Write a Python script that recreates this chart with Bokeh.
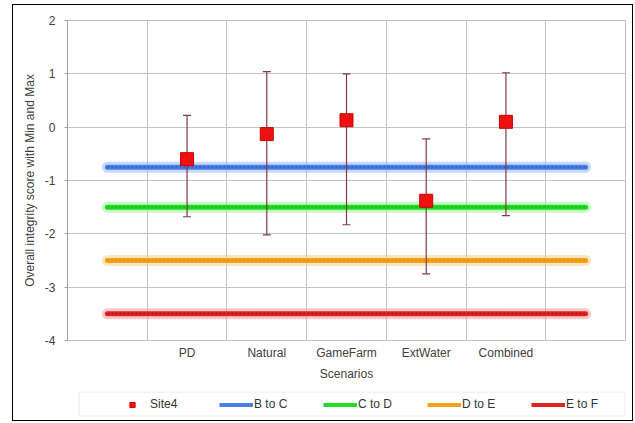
import numpy as np
from bokeh.plotting import figure
from bokeh.layouts import column
from bokeh.models import (Legend, LegendItem, ColumnDataSource, FixedTicker, Range1d,
                          BoxAnnotation)
from bokeh.embed import file_html
from bokeh.resources import INLINE

# ---- data ----
categories = ["", "PD", "Natural", "GameFarm", "ExtWater", "Combined", ""]
scenarios = ["PD", "Natural", "GameFarm", "ExtWater", "Combined"]
site4 = [-0.60, -0.13, 0.13, -1.38, 0.10]
site4_max = [0.22, 1.04, 1.00, -0.22, 1.02]
site4_min = [-1.68, -2.02, -1.83, -2.75, -1.66]
threshold_names = ["B to C", "C to D", "D to E", "E to F"]
threshold_values = [-0.75, -1.5, -2.5, -3.5]
y_ticks = [-4, -3, -2, -1, 0, 1, 2]

# ---- styles ----
FONT = "Liberation Sans"
line_colors = ["#4a7fe3", "#22dd22", "#f2a31c", "#e02424"]
dot_colors = ["#2c5bc4", "#18b818", "#d98a0a", "#b81414"]
glow_colors = ["#9ab8f5", "#9cf09c", "#f8d08a", "#f29a9a"]
EB_COLOR = "#7f3b47"

centers = [i + 0.5 for i in range(len(categories))]
scen_x = [centers[categories.index(s)] for s in scenarios]

p = figure(width=619, height=383, output_backend="svg", toolbar_location=None,
           x_range=Range1d(0, len(categories)), y_range=Range1d(-4, 2),
           min_border_left=54, min_border_right=7, min_border_top=15,
           min_border_bottom=48)
p.background_fill_color = "white"
p.border_fill_color = "white"
p.outline_line_color = "#bdbdbd"

# grids
p.xgrid.ticker = FixedTicker(ticks=list(range(1, len(categories))))
p.ygrid.ticker = FixedTicker(ticks=y_ticks)
p.xgrid.grid_line_color = "#c4c4c4"
p.ygrid.grid_line_color = "#c4c4c4"

# axes
p.xaxis.ticker = FixedTicker(ticks=scen_x)
p.xaxis.major_label_overrides = {x: s for x, s in zip(scen_x, scenarios)}
p.yaxis.ticker = FixedTicker(ticks=y_ticks)
p.yaxis.major_label_overrides = {t: str(t) for t in y_ticks}
for ax in (p.xaxis[0], p.yaxis[0]):
    ax.axis_line_color = "#a0a0a0"
    ax.major_tick_line_color = "#a0a0a0"
    ax.minor_tick_line_color = None
    ax.major_label_text_font = FONT
    ax.major_label_text_font_size = "12px"
    ax.major_label_text_color = "#404040"
    ax.axis_label_text_font = FONT
    ax.axis_label_text_font_size = "12px"
    ax.axis_label_text_font_style = "normal"
    ax.axis_label_text_color = "#404040"
p.xaxis.major_tick_out = 0
p.xaxis.major_tick_in = 0
p.xaxis.major_label_standoff = 5
p.xaxis.axis_label = "Scenarios"
p.xaxis.axis_label_standoff = 4
p.xaxis.axis_line_color = "#c4c4c4"
p.yaxis.major_tick_out = 3
p.yaxis.major_tick_in = 0
p.yaxis.major_label_standoff = 9
p.yaxis.axis_label = "Overall integrity score with Min and Max"
p.yaxis.axis_label_standoff = 5

# threshold lines
x0, x1 = centers[0], centers[-1]
th_sources = []
for name, val, lc, dc, gc in zip(threshold_names, threshold_values, line_colors, dot_colors, glow_colors):
    src = ColumnDataSource(dict(x=[x0, x1], y=[val, val]))
    th_sources.append(src)
    p.line("x", "y", source=src, line_width=11, line_color=gc, line_alpha=0.55, line_cap="round")
    p.line("x", "y", source=src, line_width=5, line_color=lc, line_cap="round")
    p.line("x", "y", source=src, line_width=2, line_color=dc, line_dash="2 2", line_alpha=0.8)

# error bars
eb = ColumnDataSource(dict(x=scen_x, lo=site4_min, hi=site4_max, y=site4))
p.segment(x0="x", y0="lo", x1="x", y1="hi", source=eb, line_color=EB_COLOR, line_width=1.2)
p.scatter(x="x", y="lo", source=eb, marker="dash", size=8, line_color=EB_COLOR, line_width=1.2)
p.scatter(x="x", y="hi", source=eb, marker="dash", size=8, line_color=EB_COLOR, line_width=1.2)
p.scatter(x="x", y="y", source=eb, marker="square", size=13, fill_color="#ee1111",
          line_color="#cc0000")

# ---- legend panel (separate small figure, frames aligned with the chart) ----
lg = figure(width=619, height=32, output_backend="svg", toolbar_location=None,
            x_range=Range1d(0, 1), y_range=Range1d(0, 1),
            min_border_left=54, min_border_right=7, min_border_top=3,
            min_border_bottom=1, x_axis_type=None, y_axis_type=None)
lg.grid.visible = False
lg.outline_line_color = None
lg.border_fill_color = "white"

# legend box border (frame-relative screen units)
lg.add_layout(BoxAnnotation(left=11.5, right=557.5, bottom=3.5, top=27.5,
                            left_units="screen", right_units="screen",
                            top_units="screen", bottom_units="screen",
                            fill_alpha=0, line_color="#b5b5b5", line_width=1))

# legend proxies reuse the chart's sources; their data lie outside this panel's ranges
items = [LegendItem(label="Site4", renderers=[
    lg.scatter(x="x", y="y", source=eb, marker="square", size=7,
               fill_color="#ee1111", line_color="#cc0000")])]
for name, src, lc, dc in zip(threshold_names, th_sources, line_colors, dot_colors):
    r = lg.line("x", "y", source=src, line_width=4, line_color=lc)
    items.append(LegendItem(label=name, renderers=[r]))
legend = Legend(items=items, orientation="horizontal", location=(46, 3),
                glyph_width=34, glyph_height=13, label_height=20, label_standoff=1,
                label_width=42, spacing=27, padding=2, margin=0, border_line_alpha=0,
                background_fill_alpha=0, label_text_font=FONT,
                label_text_font_size="12px", label_text_color="#333333")
lg.add_layout(legend)

layout = column(p, lg, spacing=0, margin=(4, 0, 0, 12),
                styles={"border": "1px solid black"})

open("out.html", "w").write(file_html(layout, INLINE))
